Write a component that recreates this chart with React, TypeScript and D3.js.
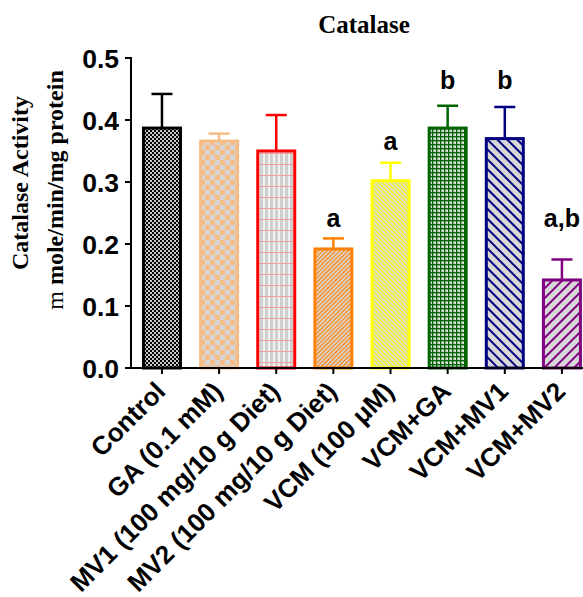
import React from 'react';
import * as d3 from 'd3';

const groups = ['Control', 'GA (0.1 mM)', 'MV1 (100 mg/10 g Diet)', 'MV2 (100 mg/10 g Diet)', 'VCM (100 μM)', 'VCM+GA', 'VCM+MV1', 'VCM+MV2'];
const means = [0.387, 0.366, 0.350, 0.192, 0.302, 0.387, 0.370, 0.142];
const errors = [0.055, 0.012, 0.058, 0.017, 0.029, 0.036, 0.051, 0.033];
const marks = ['', '', '', 'a', 'a', 'b', 'b', 'a,b'];
// baseline height of the significance letters, in data units
const markLevels = [0, 0, 0, 0.227, 0.352, 0.450, 0.450, 0.227];
const strokes = ['#000000', '#f5bd85', '#ff0000', '#ff8000', '#ffff00', '#006400', '#000080', '#800080'];
const yTicks = [0, 0.1, 0.2, 0.3, 0.4, 0.5];

const W = 583;
const H = 597;
const axisX = 131;
const baseY = 368;

const App: React.FC = () => {
  const y = d3.scaleLinear().domain([0, 0.5]).range([baseY, 58]);
  const x = d3.scaleBand<string>().domain(groups).range([133.4, 590.5]).paddingInner(0.3).paddingOuter(0.15);
  const bw = x.bandwidth();
  const sans = 'Arial, "Liberation Sans", sans-serif';
  const serif = '"Times New Roman", "Liberation Serif", serif';

  return (
    <svg width={W} height={H} style={{ position: 'absolute', left: 0, top: 0, background: '#fff' }}>
      <defs>
        <pattern id="p0" width="4" height="4" patternUnits="userSpaceOnUse">
          <rect width="4" height="4" fill="#c8c8c8" />
          <rect width="2" height="2" fill="#000" />
          <rect x="2" y="2" width="2" height="2" fill="#000" />
        </pattern>
        <pattern id="p1" width="10" height="10" patternUnits="userSpaceOnUse">
          <rect width="10" height="10" fill="#d6d6d6" />
          <rect width="5" height="5" fill="#f5bd85" />
          <rect x="5" y="5" width="5" height="5" fill="#f5bd85" />
        </pattern>
        <pattern id="p2" width="5" height="11" patternUnits="userSpaceOnUse">
          <rect width="5" height="11" fill="#cfcfcf" />
          <rect x="3" width="2" height="11" fill="#f2f2f2" />
          <rect y="10" width="5" height="1" fill="#f4a0a0" />
        </pattern>
        <pattern id="p3" width="3" height="3" patternUnits="userSpaceOnUse" patternTransform="rotate(45)">
          <rect width="3" height="3" fill="#d8d8d8" />
          <rect width="1.2" height="3" fill="#ff8000" />
        </pattern>
        <pattern id="p4" width="3" height="3" patternUnits="userSpaceOnUse" patternTransform="rotate(-45)">
          <rect width="3" height="3" fill="#d8d8d8" />
          <rect width="1.2" height="3" fill="#ffff00" />
        </pattern>
        <pattern id="p5" width="4" height="4" patternUnits="userSpaceOnUse">
          <rect width="4" height="4" fill="#d8d8d8" />
          <rect width="1.3" height="4" fill="#006400" />
          <rect width="4" height="1.3" fill="#006400" />
        </pattern>
        <pattern id="p6" width="7" height="7" patternUnits="userSpaceOnUse" patternTransform="rotate(-45)">
          <rect width="7" height="7" fill="#d8d8d8" />
          <rect width="2" height="7" fill="#000080" />
        </pattern>
        <pattern id="p7" width="7" height="7" patternUnits="userSpaceOnUse" patternTransform="rotate(45)">
          <rect width="7" height="7" fill="#d8d8d8" />
          <rect width="2" height="7" fill="#800080" />
        </pattern>
      </defs>

      <text x={364} y={33} textAnchor="middle" fontFamily={serif} fontWeight="bold" fontSize={25}>Catalase</text>

      <g transform="translate(28,183) rotate(-90)">
        <text textAnchor="middle" fontFamily={serif} fontWeight="bold" fontSize={24}>Catalase Activity</text>
      </g>
      <g transform="translate(63,190) rotate(-90)">
        <text textAnchor="middle" fontFamily={serif} fontSize={24}>
          <tspan fontWeight="normal">m</tspan>
          <tspan fontWeight="bold"> mole/min/mg protein</tspan>
        </text>
      </g>

      {groups.map((g, i) => {
        const x0 = x(g)!;
        const cx = x0 + bw / 2;
        const top = y(means[i]);
        const errTop = y(means[i] + errors[i]);
        return (
          <g key={g}>
            <line x1={cx} x2={cx} y1={top} y2={errTop} stroke={strokes[i]} strokeWidth={2.5} />
            <line x1={cx - 10.5} x2={cx + 10.5} y1={errTop} y2={errTop} stroke={strokes[i]} strokeWidth={2.5} />
            <rect x={x0 + 1.5} y={top} width={bw - 3} height={baseY - top} fill={`url(#p${i})`} stroke={strokes[i]} strokeWidth={3} />
            {marks[i] && (
              <text x={cx} y={y(markLevels[i])} textAnchor="middle" fontFamily={sans} fontWeight="bold" fontSize={25}>{marks[i]}</text>
            )}
          </g>
        );
      })}

      <line x1={axisX} x2={axisX} y1={57} y2={baseY + 1} stroke="#000" strokeWidth={2} />
      {yTicks.map((t) => (
        <g key={t}>
          <line x1={axisX - 6} x2={axisX} y1={y(t)} y2={y(t)} stroke="#000" strokeWidth={2} />
          <text x={axisX - 12} y={y(t)} dy="0.36em" textAnchor="end" fontFamily={sans} fontWeight="bold" fontSize={26.5}>{d3.format('.1f')(t)}</text>
        </g>
      ))}

      <line x1={axisX - 1} x2={W} y1={baseY} y2={baseY} stroke="#000" strokeWidth={2} />
      {groups.map((g) => {
        const cx = x(g)! + bw / 2;
        return (
          <g key={g}>
            <line x1={cx} x2={cx} y1={baseY} y2={baseY + 6} stroke="#000" strokeWidth={2} />
            <text transform={`translate(${cx + 5},${baseY + 25}) rotate(-45)`} textAnchor="end" fontFamily={sans} fontWeight="bold" fontSize={26}>{g}</text>
          </g>
        );
      })}
    </svg>
  );
};

export default App;
